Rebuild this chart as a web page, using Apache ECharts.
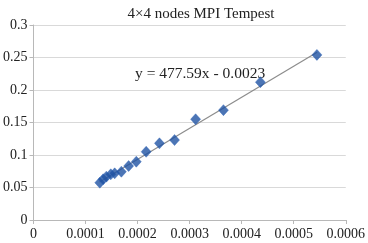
<!DOCTYPE html>
<html>
<head>
<meta charset="utf-8">
<script src="https://cdn.jsdelivr.net/npm/echarts@6/dist/echarts.min.js"></script>
<style>
  html, body { margin: 0; padding: 0; background: #fff; }
  #main { width: 368px; height: 243px; }
</style>
</head>
<body>
<div id="main"></div>
<script>
const xVals = [0.0001274, 0.0001338, 0.000140, 0.0001485, 0.000156, 0.0001688, 0.0001828,
  0.0001975, 0.0002165, 0.000242, 0.000271, 0.0003115, 0.000365, 0.000436, 0.0005446];
const yVals = [0.0574, 0.0626, 0.0667, 0.0703, 0.0718, 0.0743, 0.083,
  0.0897, 0.105, 0.118, 0.123, 0.155, 0.169, 0.212, 0.254];
// trend line end points
const trendX = [0.000127, 0.000545];
const trendY = [0.0584, 0.2580];
const titleText = '4×4 nodes MPI Tempest';
const eqText = 'y = 477.59x - 0.0023';

const font = '"Liberation Serif", "Times New Roman", serif';
const myChart = echarts.init(document.getElementById('main'));

let option = {
  animation: false,
  title: {
    text: titleText,
    left: 196,
    top: 2,
    textAlign: 'center',
    textStyle: { fontFamily: font, fontSize: 15, fontWeight: 'normal', color: '#222' }
  },
  grid: { left: 33, right: 20, top: 25, bottom: 23 },
  xAxis: {
    type: 'value',
    min: 0,
    max: 0.0006,
    interval: 0.0001,
    axisLine: { show: true, lineStyle: { color: '#b8b8b8' } },
    axisTick: { show: true, length: 4, lineStyle: { color: '#b8b8b8' } },
    splitLine: { show: false },
    axisLabel: {
      fontFamily: font, fontSize: 14, color: '#222', margin: 7,
      formatter: v => v === 0 ? '0' : v.toFixed(4)
    }
  },
  yAxis: {
    type: 'value',
    min: 0,
    max: 0.3,
    interval: 0.05,
    axisLine: { show: true, lineStyle: { color: '#b8b8b8' } },
    axisTick: { show: true, length: 4, lineStyle: { color: '#b8b8b8' } },
    splitLine: { show: true, lineStyle: { color: '#d9d9d9', width: 1 } },
    axisLabel: {
      fontFamily: font, fontSize: 14, color: '#222', margin: 6,
      formatter: v => String(+v.toFixed(2))
    }
  },
  series: [
    {
      type: 'line',
      data: trendX.map((x, i) => [x, trendY[i]]),
      symbol: 'none',
      lineStyle: { color: '#8c8c8c', width: 1.2 },
      z: 2
    },
    {
      type: 'scatter',
      data: xVals.map((x, i) => [x, yVals[i]]),
      symbol: 'diamond',
      symbolSize: [10, 11],
      itemStyle: { color: '#1f52a3', borderColor: '#2a62b8', borderWidth: 0.5 },
      z: 3
    }
  ],
  graphic: [
    {
      type: 'text',
      left: 135,
      top: 66,
      style: { text: eqText, font: '15.5px ' + font, fill: '#222' }
    }
  ]
};

myChart.setOption(option, true);
</script>
</body>
</html>
